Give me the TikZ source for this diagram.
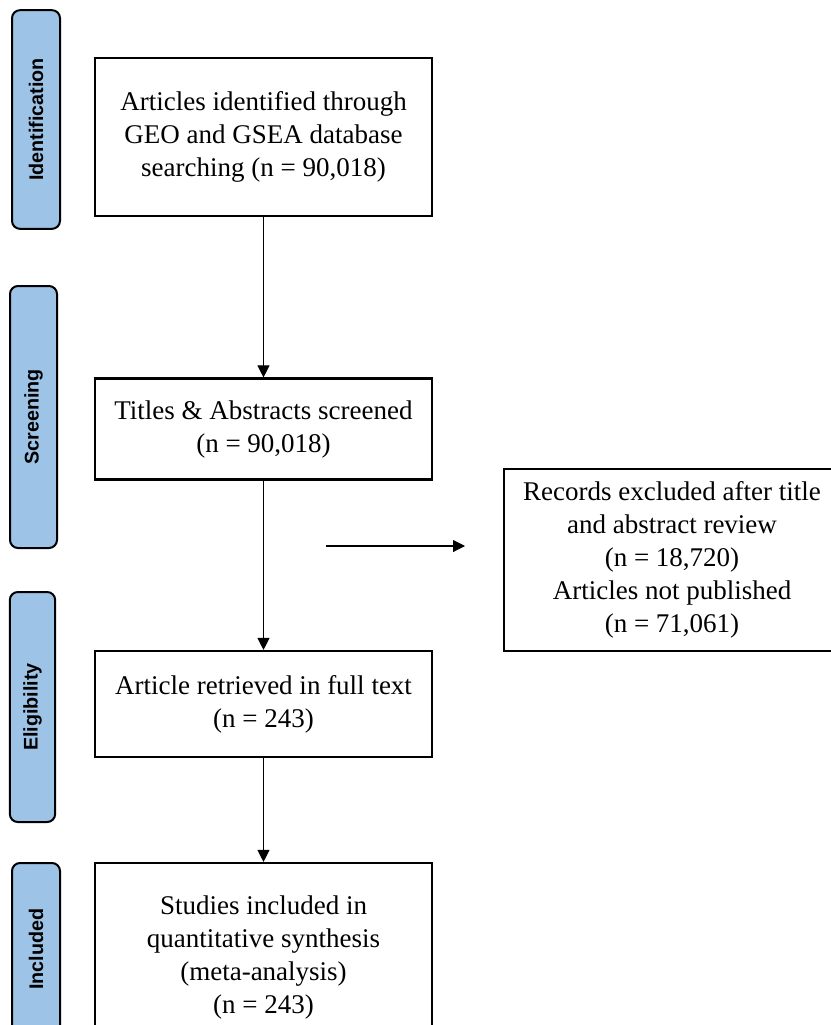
\documentclass[tikz,border=0pt]{standalone}
\usepackage{fontspec}
\setmainfont{Liberation Serif}
\newfontfamily\labelfont{Liberation Sans}
\usetikzlibrary{arrows.meta}
\definecolor{sideblue}{HTML}{9DC3E6}
\begin{document}
\begin{tikzpicture}[x=0.75pt,y=-0.75pt,
  flowbox/.style={draw=black, line width=1.6pt, fill=white, align=center,
    inner sep=0pt, minimum width=252.75pt,
    font=\fontsize{20.25}{24.75}\selectfont},
  sidebox/.style={draw=black, line width=1.5pt, fill=sideblue, rounded corners=6pt,
    rotate=90, inner sep=0pt, minimum height=36pt,
    font=\labelfont\bfseries\fontsize{14.8}{17}\selectfont},
  flowarrow/.style={draw=black, line width=0.8pt, -{Triangle[length=9pt,width=9pt]}}]
\useasboundingbox (0,0) rectangle (831,1025);
\fill[white] (0,0) rectangle (831,1025);

% side labels
\node[sidebox, minimum width=164pt] (sid) at (36,119.5) {Identification};
\node[sidebox, minimum width=196.5pt, minimum height=35.25pt] (ssc) at (33.5,417) {Screening};
\node[sidebox, minimum width=172.5pt, minimum height=34pt] (sel) at (32.5,707) {Eligibility};
\node[sidebox, minimum width=129pt] (sin) at (36,949) {Included};

% main boxes
\node[flowbox, minimum height=118.5pt] (b1) at (263.5,137)
  {Articles identified through\\GEO and GSEA database\\searching (n = 90,018)};
\node[flowbox, minimum height=75.75pt] (b2) at (263.5,429)
  {Titles \& Abstracts screened\\(n = 90,018)};
\node[flowbox, minimum height=79.5pt] (b3) at (263.5,704)
  {Article retrieved in full text\\(n = 243)};
\node[flowbox, minimum height=141pt] (b4) at (263.5,957)
  {Studies included in\\quantitative synthesis\\(meta-analysis)\\(n = 243)};
\node[flowbox, minimum width=252pt, minimum height=136.5pt] (rx) at (672,560)
  {Records excluded after title\\and abstract review\\(n = 18,720)\\Articles not published\\(n = 71,061)};

% connectors
\draw[flowarrow] (b1.south) -- (b2.north);
\draw[flowarrow] (b2.south) -- (b3.north);
\draw[flowarrow] (b3.south) -- (b4.north);
\coordinate (hs) at (326,546);
\coordinate (he) at (465,546);
\draw[flowarrow] (hs) -- (he);
\end{tikzpicture}
\end{document}
